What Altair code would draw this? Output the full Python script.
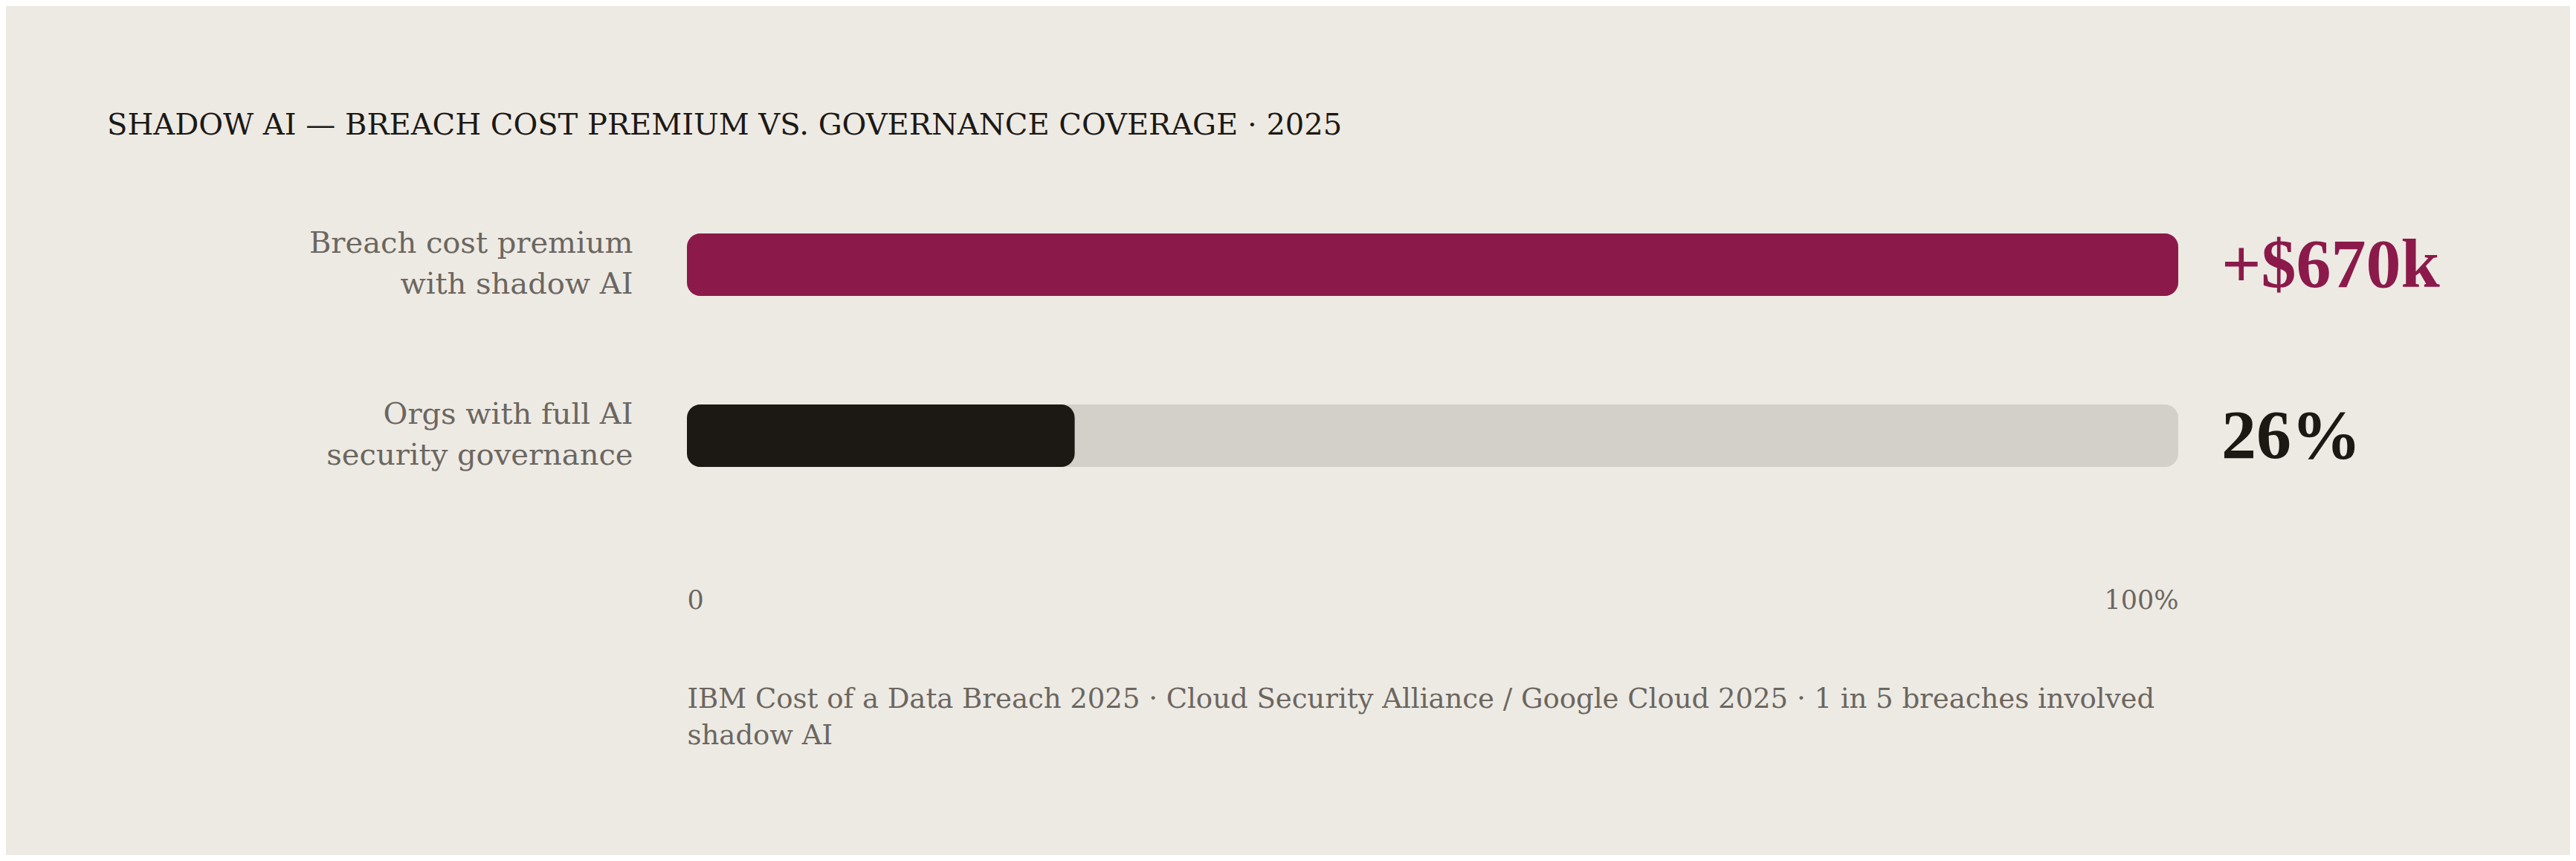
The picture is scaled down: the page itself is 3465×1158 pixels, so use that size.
import altair as alt
import pandas as pd

categories = ["Breach cost premium|with shadow AI", "Orgs with full AI|security governance"]
fill_pct = [100, 26]
track_pct = [100, 100]
value_labels = ["+$670k", "26%"]
bar_colors = ["#8B1A4A", "#1C1915"]
tick_values = [0, 100]
title_text = "SHADOW AI — BREACH COST PREMIUM VS. GOVERNANCE COVERAGE · 2025"
footnote = ["IBM Cost of a Data Breach 2025 · Cloud Security Alliance / Google Cloud 2025 · 1 in 5 breaches involved",
            "shadow AI"]

df = pd.DataFrame({
    "cat": categories,
    "fill": fill_pct,
    "track": track_pct,
    "zero": [0, 0],
    "label": value_labels,
    "color": bar_colors,
})

FONT = "DejaVu Serif"
BIGFONT = "Liberation Serif"
BG = "#EDEAE4"
GREY = "#6B665F"

y_enc = alt.Y("cat:N", sort=categories,
              scale=alt.Scale(paddingInner=0, paddingOuter=0),
              axis=alt.Axis(title=None, domain=False, ticks=False,
                            labelExpr="split(datum.label, '|')",
                            labelFont=FONT, labelFontSize=40, labelColor=GREY,
                            labelLineHeight=55, labelPadding=73,
                            labelOffset=-28,
                            labelAlign="right", labelBaseline="middle",
                            labelLimit=0))

x_scale = alt.Scale(domain=[0, 100], nice=False, zero=True)
x_axis = alt.Axis(values=tick_values, labelExpr="datum.value == 0 ? '0' : '100%'",
                  labelFlush=True, domain=False, ticks=False, grid=False,
                  labelFont=FONT, labelFontSize=35, labelColor=GREY,
                  labelPadding=89,
                  title=footnote, titleFont=FONT, titleFontSize=37,
                  titleFontWeight="normal", titleColor=GREY,
                  titleLineHeight=49, titleAlign="left", titleAnchor="start",
                  titleBaseline="top", titleX=0, titleY=221, titleAngle=0)

base = alt.Chart(df)

track = base.mark_bar(size=84, cornerRadius=18, color="#D3D0C9").encode(
    y=y_enc,
    x=alt.X("zero:Q", scale=x_scale, axis=x_axis),
    x2="track:Q",
)

fill = base.mark_bar(size=84, cornerRadius=18).encode(
    y=alt.Y("cat:N", sort=categories),
    x=alt.X("zero:Q", scale=x_scale),
    x2="fill:Q",
    color=alt.Color("color:N", scale=None),
)

labels = base.mark_text(align="left", baseline="middle", dx=58, dy=2,
                        font=BIGFONT, fontSize=94, fontWeight="bold").encode(
    y=alt.Y("cat:N", sort=categories),
    x=alt.X("track:Q", scale=x_scale),
    text="label:N",
    color=alt.Color("color:N", scale=None),
)

chart = alt.layer(track, fill, labels).properties(
    width=2006,
    height=460,
    title=alt.TitleParams(text=title_text, anchor="start", frame="group",
                          dx=-780, offset=52, font=FONT, fontSize=40,
                          fontWeight="normal", color="#1C1915"),
    autosize=alt.AutoSizeParams(type="none"),
    padding={"left": 916, "top": 233, "right": 527, "bottom": 449},
).configure(background=BG).configure_view(stroke=None)

chart.save("out.html", embed_options={"renderer": "svg", "actions": False})
